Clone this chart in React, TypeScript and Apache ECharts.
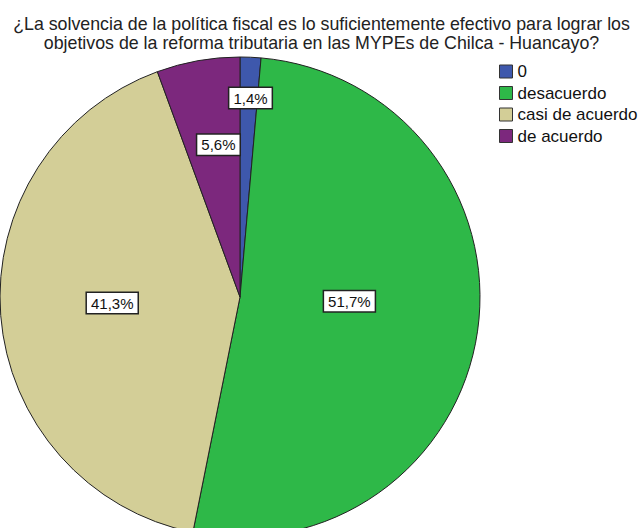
import React, { useEffect, useRef } from "react";
import * as echarts from "echarts";

const categories = ["0", "desacuerdo", "casi de acuerdo", "de acuerdo"];
const counts = [2, 74, 59, 8];
const colors = ["#3E58AC", "#2EB848", "#D3CE97", "#7C287D"];
const labelRadiusFactor = [1.62, 0.89, 1.04, 1.25];
const labelAngleShift = [0.5, -6, 1.7, 2];
const titleText =
  "¿La solvencia de la política fiscal es lo suficientemente efectivo para lograr los\nobjetivos de la reforma tributaria en las MYPEs de Chilca - Huancayo?";

const CX = 240;
const CY = 297;
const R = 240;

export default function App() {
  const ref = useRef<HTMLDivElement>(null);
  useEffect(() => {
    document.body.style.margin = "0";
    const chart = echarts.init(ref.current!, null, { renderer: "svg" });
    chart.setOption({
      animation: false,
      backgroundColor: "#ffffff",
      title: {
        text: titleText,
        left: "center",
        top: 9,
        textStyle: {
          fontFamily: "Liberation Sans, Arial, sans-serif",
          fontSize: 17.8,
          lineHeight: 19,
          fontWeight: "normal",
          color: "#222",
        },
      },
      legend: {
        orient: "vertical",
        left: 494,
        top: 58,
        itemWidth: 13,
        itemHeight: 13,
        itemGap: 4.5,
        itemTextGap: 5,
        icon: "rect",
        data: categories,
        textStyle: {
          fontFamily: "Liberation Sans, Arial, sans-serif",
          fontSize: 17,
          lineHeight: 17,
          color: "#111",
        },
        itemStyle: { borderColor: "#333", borderWidth: 1 },
      },
      series: [
        {
          type: "pie",
          center: [CX, CY],
          radius: R,
          startAngle: 90,
          clockwise: true,
          percentPrecision: 1,
          data: categories.map((c, i) => ({
            name: c,
            value: counts[i],
            itemStyle: { color: colors[i] },
          })),
          itemStyle: { borderColor: "#222", borderWidth: 1 },
          label: {
            show: true,
            position: "inside",
            formatter: (p: any) => p.percent.toFixed(1).replace(".", ",") + "%",
            fontFamily: "Liberation Sans, Arial, sans-serif",
            fontSize: 15,
            color: "#111",
            backgroundColor: "#fff",
            borderColor: "#222",
            borderWidth: 1.5,
            padding: [3, 4, 2, 4],
          },
          labelLine: { show: false },
          emphasis: { disabled: true },
          labelLayout: (p: any) => {
            const k = labelRadiusFactor[p.dataIndex];
            const a = (labelAngleShift[p.dataIndex] * Math.PI) / 180;
            const lx = p.labelRect.x + p.labelRect.width / 2 - CX;
            const ly = p.labelRect.y + p.labelRect.height / 2 - CY;
            const rx = lx * Math.cos(a) - ly * Math.sin(a);
            const ry = lx * Math.sin(a) + ly * Math.cos(a);
            return { x: CX + rx * k, y: CY + ry * k };
          },
        },
      ],
    });
    return () => chart.dispose();
  }, []);
  return (
    <div
      ref={ref}
      style={{ position: "absolute", left: 0, top: 0, width: 643, height: 528 }}
    />
  );
}
